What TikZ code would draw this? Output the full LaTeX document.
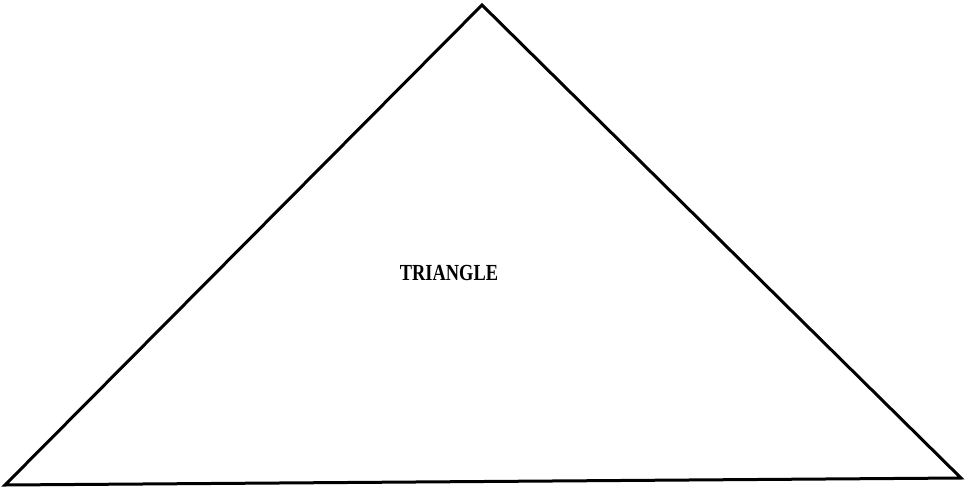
\documentclass[tikz,border=0pt]{standalone}
\usepackage{fontspec}
\setmainfont{Liberation Serif}
\begin{document}
\begin{tikzpicture}[x=1pt,y=-1pt,
  edge/.style={draw=black,line width=3pt,line join=miter},
  lbl/.style={font=\fontsize{23}{26}\selectfont\bfseries,inner sep=0pt}]
\useasboundingbox (0,0) rectangle (967,491);
\coordinate (top) at (482,5);
\coordinate (bl) at (5,485);
\coordinate (br) at (961,478);
\draw[edge] (top) -- (br) -- (bl) -- cycle;
\node[lbl] (t) at (449,273) {\scalebox{0.8}[1]{TRIANGLE}};
\end{tikzpicture}
\end{document}
